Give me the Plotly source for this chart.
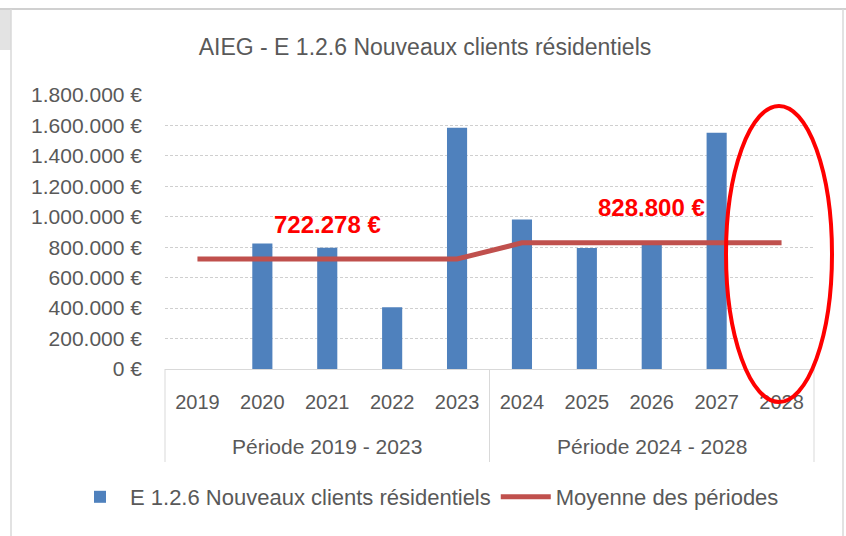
import plotly.graph_objects as go

# ---- data ----
periods = ["Période 2019 - 2023"] * 5 + ["Période 2024 - 2028"] * 5
years = ["2019", "2020", "2021", "2022", "2023", "2024", "2025", "2026", "2027", "2028"]
clients = [0, 825000, 797000, 405000, 1584390, 982000, 795000, 815000, 1552000, 0]
moyenne = [722278] * 5 + [828800] * 5
label_years = ["2021", "2026"]
label_values = [722278, 828800]
label_texts = ["722.278 €", "828.800 €"]
y_ticks = [0, 200000, 400000, 600000, 800000, 1000000, 1200000, 1400000, 1600000, 1800000]
y_ticktext = ["0 €", "200.000 €", "400.000 €", "600.000 €", "800.000 €", "1.000.000 €",
              "1.200.000 €", "1.400.000 €", "1.600.000 €", "1.800.000 €"]

FONT = "Liberation Sans, Arial, sans-serif"
GREY = "#595959"
DIV = "#D9D9D9"

W, H = 846, 536
L, R, T, B = 165, 32, 95, 167
pw, ph = W - L - R, H - T - B


def px(x):
    return (x - L) / pw


def py(y):
    return (H - B - y) / ph


fig = go.Figure()
fig.add_trace(go.Bar(
    x=years, y=clients,
    name="E 1.2.6 Nouveaux clients résidentiels",
    marker=dict(color="#4F81BD", line=dict(width=0)),
))
fig.add_trace(go.Scatter(
    x=years, y=moyenne, mode="lines",
    name="Moyenne des périodes",
    line=dict(color="#C0504D", width=5),
))

for yr, val, txt in zip(label_years, label_values, label_texts):
    fig.add_annotation(
        x=years.index(yr), y=val, xref="x", yref="y", text=txt, showarrow=False,
        yshift=35, font=dict(family=FONT, size=24, color="#FF0000", weight="bold"),
    )

# group (period) labels and dividers of the two-level category axis
n = len(years)
groups = []
for i, p in enumerate(periods):
    if not groups or groups[-1][0] != p:
        groups.append([p, i, i])
    else:
        groups[-1][2] = i

shapes = []
bounds = sorted({g[1] - 0.5 for g in groups} | {g[2] + 0.5 for g in groups})
for b in bounds:
    xp = (b + 0.5) / n
    shapes.append(dict(type="line", xref="paper", yref="paper", x0=xp, x1=xp, y0=0, y1=py(462),
                       line=dict(color=DIV, width=1)))
for name, i0, i1 in groups:
    fig.add_annotation(
        x=((i0 + i1) / 2 + 0.5) / n, y=py(446), xref="paper", yref="paper", text=name,
        showarrow=False, xanchor="center", yanchor="middle",
        font=dict(family=FONT, size=21, color=GREY),
    )

shapes += [
    # chart border / surrounding sheet
    dict(type="rect", xref="paper", yref="paper", x0=px(0), x1=px(11), y0=py(50), y1=py(9),
         fillcolor="#E3E3E3", line=dict(width=0), layer="below"),
    dict(type="line", xref="paper", yref="paper", x0=px(0), x1=px(846), y0=py(9), y1=py(9),
         line=dict(color="#D0D0D0", width=2)),
    dict(type="line", xref="paper", yref="paper", x0=px(11), x1=px(11), y0=py(9), y1=py(536),
         line=dict(color=DIV, width=1.5)),
    dict(type="line", xref="paper", yref="paper", x0=px(843), x1=px(843), y0=py(9), y1=py(536),
         line=dict(color=DIV, width=1.5)),
    # red highlight ellipse
    dict(type="circle", xref="paper", yref="paper", x0=px(726), x1=px(832), y0=py(402), y1=py(106),
         line=dict(color="#FF0000", width=4)),
]

fig.update_layout(
    width=W, height=H,
    margin=dict(l=L, r=R, t=T, b=B, pad=0),
    paper_bgcolor="white", plot_bgcolor="white",
    font=dict(family=FONT, size=20, color=GREY),
    title=dict(text="AIEG - E 1.2.6 Nouveaux clients résidentiels", x=425 / W, xanchor="center",
               y=1 - 47 / H, yanchor="middle", font=dict(family=FONT, size=23, color=GREY)),
    bargap=0.69,
    showlegend=True,
    legend=dict(orientation="h", x=px(70), xanchor="left", y=py(497), yanchor="middle",
                font=dict(family=FONT, size=22, color=GREY), bgcolor="rgba(0,0,0,0)",
                itemwidth=50, tracegroupgap=0),
    shapes=shapes,
)
fig.update_xaxes(
    type="category", categoryorder="array", categoryarray=years,
    range=[-0.5, n - 0.5], autorange=False,
    showline=True, linecolor=DIV, linewidth=1,
    ticks="", ticklabelstandoff=15,
    tickfont=dict(family=FONT, size=20, color=GREY),
    showgrid=False, zeroline=False,
)
fig.update_yaxes(
    range=[0, 1800000], autorange=False, tickvals=y_ticks, ticktext=y_ticktext,
    showgrid=True, gridcolor="#CFCFCF", gridwidth=1, griddash="3px,2px",
    zeroline=False, showline=False, ticks="", ticklabelstandoff=22,
    tickfont=dict(family=FONT, size=21, color=GREY),
)

fig.write_html("out.html", config={"displayModeBar": False},
               post_script="document.body.style.margin='0';")
